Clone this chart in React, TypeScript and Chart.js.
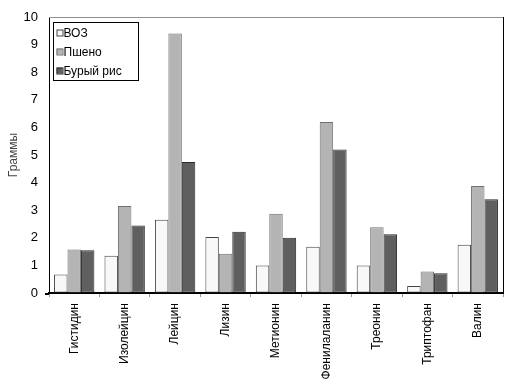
import React, { useEffect, useRef } from "react";
import { Chart, registerables } from "chart.js";

Chart.register(...registerables);

const categories = ["Гистидин", "Изолейцин", "Лейцин", "Лизин", "Метионин", "Фенилаланин", "Треонин", "Триптофан", "Валин"];
const seriesNames = ["ВОЗ", "Пшено", "Бурый рис"];
const vozValues = [0.67, 1.35, 2.65, 2.03, 1.0, 1.68, 1.0, 0.25, 1.75];
const psenoValues = [1.58, 3.15, 9.4, 1.42, 2.87, 6.2, 2.38, 0.78, 3.88];
const riceValues = [1.55, 2.45, 4.75, 2.22, 2.0, 5.2, 2.13, 0.72, 3.4];
const yTicks = [0, 1, 2, 3, 4, 5, 6, 7, 8, 9, 10];

const fills = ["#f8f8f8", "#b4b4b4", "#5f5f5f"];
const borders = ["#444444", "#707070", "#2a2a2a"];

const FONT = "'Liberation Sans', Arial, sans-serif";

const framePlugin = {
  id: "frameAndLegend",
  afterDraw(chart: any) {
    const { ctx, chartArea } = chart;
    const { left, right, top, bottom } = chartArea;
    ctx.save();
    ctx.strokeStyle = "#909090";
    ctx.lineWidth = 1;
    ctx.beginPath();
    ctx.moveTo(left, top + 0.5);
    ctx.lineTo(right, top + 0.5);
    ctx.stroke();
    ctx.strokeStyle = "#000";
    ctx.beginPath();
    ctx.moveTo(right + 0.5, top);
    ctx.lineTo(right + 0.5, bottom);
    ctx.stroke();
    ctx.lineWidth = 2;
    ctx.beginPath();
    ctx.moveTo(left - 4, bottom + 1);
    ctx.lineTo(left, bottom + 1);
    ctx.stroke();
    ctx.lineWidth = 1;
    const lx = left + 4.5;
    const ly = top + 5.5;
    const lw = 85;
    const lh = 58;
    ctx.fillStyle = "#fff";
    ctx.fillRect(lx, ly, lw, lh);
    ctx.strokeStyle = "#000";
    ctx.strokeRect(lx, ly, lw, lh);
    ctx.font = "12px " + FONT;
    ctx.textBaseline = "middle";
    seriesNames.forEach((name, i) => {
      const cy = ly + 10 + i * 19;
      ctx.fillStyle = fills[i];
      ctx.fillRect(lx + 3, cy - 3, 6, 6);
      ctx.strokeStyle = borders[i];
      ctx.strokeRect(lx + 3.5, cy - 2.5, 6, 6);
      ctx.fillStyle = "#000";
      ctx.fillText(name, lx + 10, cy + 1);
    });
    ctx.restore();
  },
};

export default function App() {
  const ref = useRef<HTMLCanvasElement>(null);
  useEffect(() => {
    document.body.style.margin = "0";
    const values = [vozValues, psenoValues, riceValues];
    const chart = new Chart(ref.current!, {
      type: "bar",
      data: {
        labels: categories,
        datasets: seriesNames.map((name, i) => ({
          label: name,
          data: values[i],
          backgroundColor: fills[i],
          borderColor: borders[i],
          borderWidth: 1,
          borderSkipped: false,
          categoryPercentage: 0.8,
          barPercentage: 1.0,
        })),
      },
      options: {
        responsive: false,
        animation: false,
        layout: { padding: { top: 17, right: 16, left: 0, bottom: 0 } },
        plugins: { legend: { display: false }, tooltip: { enabled: false } },
        scales: {
          x: {
            offset: true,
            grid: {
              display: true,
              offset: true,
              drawOnChartArea: false,
              drawTicks: true,
              tickLength: 4,
              color: "#999",
            },
            border: { display: true, color: "#000", width: 2 },
            ticks: {
              minRotation: 90,
              maxRotation: 90,
              autoSkip: false,
              color: "#000",
              padding: 6,
              font: { family: FONT, size: 12 },
            },
            afterFit(scale: any) {
              scale.height = 98;
            },
          },
          y: {
            min: 0,
            max: 10,
            afterBuildTicks(scale: any) {
              scale.ticks = yTicks.map((v) => ({ value: v }));
            },
            grid: {
              display: true,
              drawOnChartArea: false,
              drawTicks: true,
              tickLength: 4,
              color: "rgba(0,0,0,0)",
            },
            border: { display: true, color: "#000", width: 1 },
            ticks: {
              color: "#000",
              padding: 7,
              font: { family: FONT, size: 13 },
            },
            title: {
              display: true,
              text: "Граммы",
              color: "#444",
              font: { family: FONT, size: 12 },
              padding: { top: 6, bottom: 4 },
            },
            afterFit(scale: any) {
              scale.width = 49;
            },
          },
        },
      },
      plugins: [framePlugin],
    });
    return () => chart.destroy();
  }, []);
  return (
    <div style={{ width: 519, height: 391 }}>
      <canvas ref={ref} width={519} height={391} style={{ display: "block" }} />
    </div>
  );
}
